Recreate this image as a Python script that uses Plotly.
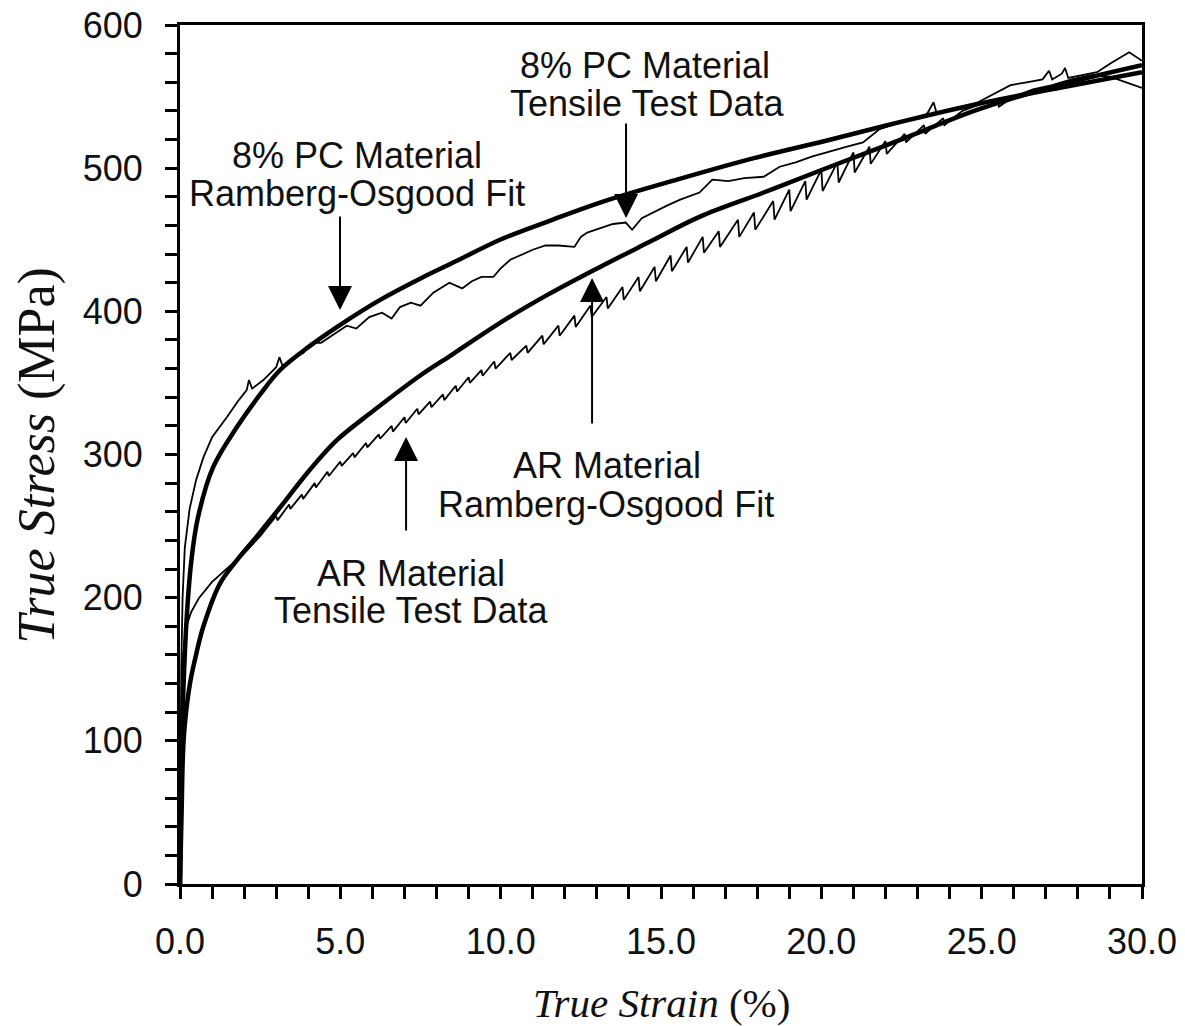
import plotly.graph_objects as go

# ---- data ----
pc_fit_strain = [0, 0.03, 0.07, 0.13, 0.22, 0.35, 0.55, 1.03, 1.77, 2.5, 3.12, 4.0, 4.89, 6.24, 7.5,
                 8.7, 9.98, 11.5, 13.1, 15.5, 17.9, 20.3, 22.6, 24.9, 27.4, 30.0]
pc_fit_stress = [0, 60, 110, 150, 190, 225, 255, 291, 319, 342, 359, 375, 389, 408, 423,
                 436, 450, 463, 476, 492, 507, 520, 533, 545, 556, 567]

ar_fit_strain = [0, 0.05, 0.12, 0.31, 0.5, 0.73, 1.25, 1.77, 2.4, 3.12, 4.0, 4.89, 6.0, 7.48, 8.5,
                 9.98, 11.5, 13.1, 14.6, 16.2, 18.2, 20.27, 22.6, 24.9, 27.4, 30.0]
ar_fit_stress = [0, 50, 103, 140, 160, 180, 210, 226, 243, 263, 288, 310, 330, 355, 370,
                 392, 412, 431, 448, 466, 483, 501, 521, 541, 558, 572]

pc_data_strain = [0, 0.02, 0.04, 0.08, 0.15, 0.3, 0.5, 0.73, 1.0, 1.46, 1.8, 2.08, 2.15, 2.25, 2.6,
                  3.0, 3.1, 3.2, 3.5, 3.85, 4.1, 4.4, 4.89, 5.2, 5.5, 5.9, 6.3, 6.6, 6.86, 7.2,
                  7.5, 7.9, 8.4, 8.8, 9.1, 9.4, 9.77, 10.0, 10.3, 10.7, 11.0, 11.4, 11.8, 12.3,
                  12.5, 12.7, 13.1, 13.5, 13.9, 14.1, 14.4, 14.75, 15.2, 15.6, 16.2, 16.6, 17.1,
                  17.6, 18.2, 18.7, 19.2, 19.7, 20.3, 20.8, 21.3, 21.8, 22.3, 22.8, 23.3, 23.5,
                  23.6, 24.2, 24.8, 25.4, 25.9, 26.4, 26.9, 27.1, 27.2, 27.5, 27.6, 27.7, 28.2,
                  28.6, 29.0, 29.6, 30.0]
pc_data_stress = [0, 80, 150, 200, 235, 262, 282, 298, 312, 326, 337, 345, 352, 346, 352,
                  361, 368, 362, 367, 371, 378, 378, 385, 390, 388, 396, 399, 395, 403, 406,
                  404, 413, 420, 416, 421, 424, 424, 430, 436, 440, 443, 446, 446, 445,
                  452, 455, 458, 461, 462, 457, 465, 469, 474, 478, 483, 492, 491,
                  493, 494, 501, 504, 508, 512, 515, 518, 527, 531, 534, 538, 546,
                  538, 542, 545, 552, 558, 560, 562, 568, 562, 566, 570, 563, 565,
                  567, 573, 581, 575]

ar_data_strain = [0, 0.02, 0.05, 0.1, 0.2, 0.35, 0.6, 1.0, 1.5, 2.0, 2.5,
                  3.0, 3.04, 3.4, 3.44, 3.8, 3.84, 4.2, 4.24, 4.6, 4.64, 5.0, 5.04, 5.4, 5.44,
                  5.8, 5.84, 6.2, 6.24, 6.6, 6.64, 7.0, 7.04, 7.4, 7.44, 7.8, 7.84, 8.2, 8.24,
                  8.6, 8.64, 9.0, 9.04, 9.4, 9.44, 9.8, 9.84, 10.3, 10.34, 10.8, 10.84,
                  11.3, 11.34, 11.8, 11.84, 12.3, 12.34, 12.8, 12.84, 13.3, 13.34, 13.8, 13.84,
                  14.3, 14.34, 14.8, 14.84, 15.3, 15.34, 15.8, 15.84, 16.3, 16.34, 16.8, 16.84,
                  17.4, 17.44, 17.9, 17.94, 18.5, 18.54, 19.0, 19.04, 19.5, 19.54, 20.0, 20.04,
                  20.5, 20.54, 21.0, 21.04, 21.5, 21.54, 22.0, 22.04, 22.6, 22.64, 23.2, 23.24,
                  23.8, 23.84, 24.4, 25.0, 25.5, 25.54, 26.0, 26.6, 27.2, 27.8, 28.4, 29.0,
                  29.5, 30.0]
ar_data_stress = [0, 60, 120, 160, 180, 190, 200, 211, 221, 231, 243,
                  257, 254, 265, 262, 272, 269, 280, 277, 288, 285, 295, 292, 301, 298,
                  308, 305, 314, 311, 320, 316, 326, 322, 332, 328, 337, 333, 342, 338,
                  348, 344, 354, 350, 359, 355, 365, 360, 371, 366, 376, 371,
                  383, 377, 390, 383, 397, 389, 404, 396, 410, 402, 417, 408,
                  424, 414, 431, 421, 439, 428, 445, 434, 452, 441, 456, 445,
                  464, 452, 469, 457, 477, 464, 485, 470, 491, 478, 499, 484,
                  504, 490, 511, 497, 515, 503, 519, 510, 524, 518, 530, 524,
                  535, 530, 540, 545, 548, 543, 550, 555, 558, 562, 565, 564,
                  560, 556]

x_ticks = [0, 5, 10, 15, 20, 25, 30]
x_tick_labels = ["0.0", "5.0", "10.0", "15.0", "20.0", "25.0", "30.0"]
y_ticks = [0, 100, 200, 300, 400, 500, 600]

fig = go.Figure()
fig.add_trace(go.Scatter(x=pc_data_strain, y=pc_data_stress, mode="lines",
                         line=dict(color="black", width=1.8), name="8% PC Tensile Test Data"))
fig.add_trace(go.Scatter(x=ar_data_strain, y=ar_data_stress, mode="lines",
                         line=dict(color="black", width=1.8), name="AR Tensile Test Data"))
fig.add_trace(go.Scatter(x=pc_fit_strain, y=pc_fit_stress, mode="lines",
                         line=dict(color="black", width=4.5, shape="spline", smoothing=1.0),
                         name="8% PC Ramberg-Osgood Fit"))
fig.add_trace(go.Scatter(x=ar_fit_strain, y=ar_fit_stress, mode="lines",
                         line=dict(color="black", width=4.5, shape="spline", smoothing=1.0),
                         name="AR Ramberg-Osgood Fit"))

TXT = dict(family="Liberation Sans, Arial, sans-serif", size=36, color="#111111")

labels = [
    ("8% PC Material", 5.52, 509.2), ("Ramberg-Osgood Fit", 5.52, 482.6),
    ("8% PC Material", 14.5, 572.0), ("Tensile Test Data", 14.55, 545.5),
    ("AR Material", 13.33, 292.0), ("Ramberg-Osgood Fit", 13.3, 265.4),
    ("AR Material", 7.2, 217.2), ("Tensile Test Data", 7.2, 190.7),
]
anns = []
for t, x, y in labels:
    anns.append(dict(text=t, x=x, y=y, xref="x", yref="y", showarrow=False,
                     font=TXT, xanchor="center", yanchor="middle"))

arrows = [
    (4.99, 400.9, 4.99, 467.3),
    (13.91, 465.2, 13.91, 532.2),
    (12.85, 423.3, 12.85, 320.6),
    (7.05, 312.2, 7.05, 245.9),
]
for x, y, ax, ay in arrows:
    anns.append(dict(text="", x=x, y=y, ax=ax, ay=ay, xref="x", yref="y",
                     axref="x", ayref="y", showarrow=True, arrowhead=2,
                     arrowsize=2.4, arrowwidth=2, arrowcolor="black"))

SERIF = "Liberation Serif, Times New Roman, serif"
anns.append(dict(text="<i>True Strain</i> (%)", xref="paper", yref="paper", x=0.5, y=-0.1385,
                 showarrow=False, xanchor="center", yanchor="middle",
                 font=dict(family=SERIF, size=41, color="#111111")))
anns.append(dict(text="<i>True Stress</i> (MPa)", xref="paper", yref="paper", x=-0.149, y=0.4994,
                 showarrow=False, xanchor="center", yanchor="middle", textangle=-90,
                 font=dict(family=SERIF, size=52, color="#111111")))

fig.update_layout(
    width=1177, height=1018,
    margin=dict(l=172, r=43, t=17, b=142, autoexpand=False),
    paper_bgcolor="white", plot_bgcolor="white",
    showlegend=False,
    annotations=anns,
    font=TXT,
)
fig.update_xaxes(range=[0, 30], tickvals=x_ticks, ticktext=x_tick_labels,
                 ticks="outside", ticklen=12, tickwidth=2.5, tickcolor="black",
                 showline=True, linewidth=3, linecolor="black", mirror=True,
                 showgrid=False, zeroline=False, ticklabelstandoff=12, automargin=False,
                 ticklabeloverflow="allow", tickfont=TXT,
                 minor=dict(dtick=1, ticks="outside", ticklen=12, tickwidth=2.5, tickcolor="black",
                            showgrid=False))
fig.update_yaxes(range=[0, 600], tickvals=y_ticks,
                 ticks="outside", ticklen=12, tickwidth=2.5, tickcolor="black",
                 showline=True, linewidth=3, linecolor="black", mirror=True,
                 showgrid=False, zeroline=False, ticklabelstandoff=15, automargin=False,
                 ticklabeloverflow="allow", tickfont=TXT,
                 minor=dict(dtick=20, ticks="outside", ticklen=12, tickwidth=2.5, tickcolor="black",
                            showgrid=False))

fig.write_html("out.html")
